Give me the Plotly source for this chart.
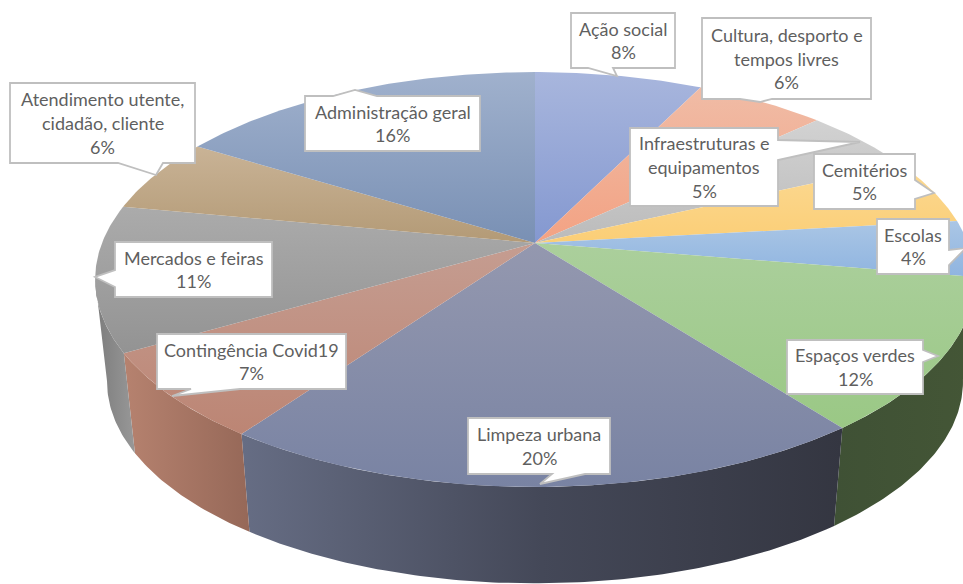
import math
import plotly.graph_objects as go

# ---- data ----
categories = ["Ação social", "Cultura, desporto e tempos livres", "Infraestruturas e equipamentos",
              "Cemitérios", "Escolas", "Espaços verdes", "Limpeza urbana", "Contingência Covid19",
              "Mercados e feiras", "Atendimento utente, cidadão, cliente", "Administração geral"]
values = [7.3, 5.7, 5.1, 5.1, 4.4, 11.9, 20.3, 6.8, 11.3, 5.8, 16.2]
percent_labels = ["8%", "6%", "5%", "5%", "4%", "12%", "20%", "7%", "11%", "6%", "16%"]
label_lines = [["Ação social"], ["Cultura, desporto e", "tempos livres"], ["Infraestruturas e", "equipamentos"],
               ["Cemitérios"], ["Escolas"], ["Espaços verdes"], ["Limpeza urbana"], ["Contingência Covid19"],
               ["Mercados e feiras"], ["Atendimento utente,", "cidadão, cliente"], ["Administração geral"]]

# ---- styles ----
top_colors = [("#A8B6DD", "#8498D0"), ("#F0BCA6", "#F3A283"), ("#D2D2D2", "#BBBBBB"), ("#FBD993", "#FBCE76"),
              ("#AAC6E5", "#8FB4E0"), ("#ABCF9C", "#9AC885"), ("#9498AF", "#7983A3"), ("#C59D91", "#BC8574"),
              ("#ABABAB", "#939393"), ("#C9B396", "#B39A76"), ("#A0B1CD", "#7990B4")]
side_colors = {5: ["#3F5135", "#445636"], 6: ["#666D84", "#444858", "#343641"],
               7: ["#B6826F", "#966858"], 8: ["#7C7C7C", "#989898"]}

# ---- projection of the disc ----
CX, CY, KX, KY, P = 535.0, 243.0, 433.0, 201.0, -0.176
DROP, SHRINK = 103.0, 0.973


def rim(theta, lower=False):
    x_, s_ = math.sin(theta), -math.cos(theta)
    w = 1 + P * s_
    dx, dy = KX * x_ / w, KY * s_ / w
    if lower:
        return CX + SHRINK * dx, CY + DROP + SHRINK * dy
    return CX + dx, CY + dy


def arc(t0, t1, lower=False):
    n = max(2, int(abs(t1 - t0) * 90))
    return [rim(t0 + (t1 - t0) * i / n, lower) for i in range(n + 1)]


total = sum(values)
angles = [0.0]
for v in values:
    angles.append(angles[-1] + v / total * 2 * math.pi)


def scale(cols):
    return [[i / (len(cols) - 1), c] for i, c in enumerate(cols)]


fig = go.Figure()

# side walls
for i, cols in side_colors.items():
    t0, t1 = angles[i], angles[i + 1]
    t1 = min(t1, math.radians(260))
    up, lo = arc(t0, t1), arc(t0, t1, True)
    pts = up + lo[::-1] + up[:1]
    xs = [p[0] for p in pts]
    ys = [p[1] for p in pts]
    fig.add_trace(go.Scatter(x=xs, y=ys, mode="lines", fill="toself", line=dict(width=0), hoverinfo="skip",
                             fillgradient=dict(type="horizontal", colorscale=scale(cols),
                                               start=min(xs), stop=max(xs))))

# top faces
for i, name in enumerate(categories):
    pts = [(CX, CY)] + arc(angles[i], angles[i + 1]) + [(CX, CY)]
    xs = [p[0] for p in pts]
    ys = [p[1] for p in pts]
    fig.add_trace(go.Scatter(x=xs, y=ys, mode="lines", fill="toself", line=dict(width=0),
                             name=name, hoverinfo="name",
                             fillgradient=dict(type="vertical", colorscale=scale(list(top_colors[i])),
                                               start=min(ys), stop=max(ys))))

# callouts: box (x0, y0, x1, y1), tail side, tail points
callouts = [
    (571, 13, 675, 68, "b", [(613, 68), (617, 76), (588, 68)]),
    (702, 18, 871, 99, "b", [(772, 99), (760, 102), (740, 99)]),
    (630, 128, 778, 206, "r", [(778, 140), (860, 142), (778, 160)]),
    (814, 154, 915, 209, "r", [(915, 180), (934, 193), (915, 199)]),
    (877, 219, 949, 274, "r", [(949, 250), (966, 248), (949, 265)]),
    (787, 340, 923, 394, "r", [(923, 350), (938, 356), (923, 362)]),
    (468, 418, 610, 474, "b", [(585, 474), (540, 484), (552, 474)]),
    (157, 334, 346, 389, "b", [(240, 389), (172, 396), (191, 389)]),
    (115, 242, 272, 297, "l", [(115, 287), (95, 277), (115, 270)]),
    (10, 83, 195, 163, "b", [(163, 163), (156, 175), (118, 163)]),
    (305, 96, 480, 151, "t", [(333, 96), (355, 90), (377, 96)]),
]
LINE_H = 23.6
shapes = []
annotations = []
for (x0, y0, x1, y1, side, tail), lines, pct in zip(callouts, label_lines, percent_labels):
    if side == "t":
        path = [(x0, y0)] + tail + [(x1, y0), (x1, y1), (x0, y1)]
    elif side == "r":
        path = [(x0, y0), (x1, y0)] + tail + [(x1, y1), (x0, y1)]
    elif side == "b":
        path = [(x0, y0), (x1, y0), (x1, y1)] + tail + [(x0, y1)]
    else:
        path = [(x0, y0), (x1, y0), (x1, y1), (x0, y1)] + tail
    d = "M" + " L".join(f"{a},{b}" for a, b in path) + " Z"
    shapes.append(dict(type="path", path=d, xref="x", yref="y", fillcolor="white",
                       line=dict(color="#BFBFBF", width=1.8), layer="above"))
    rows = lines + [pct]
    cy = (y0 + y1) / 2
    for j, row in enumerate(rows):
        annotations.append(dict(x=(x0 + x1) / 2, y=cy + (j - (len(rows) - 1) / 2) * LINE_H, xref="x", yref="y",
                                text=row, showarrow=False, xanchor="center", yanchor="middle",
                                font=dict(family="Lato", size=18, color="#5F5F5F")))

fig.update_layout(
    width=963, height=584, margin=dict(l=0, r=0, t=0, b=0), showlegend=False,
    paper_bgcolor="white", plot_bgcolor="white",
    xaxis=dict(range=[0, 963], visible=False, fixedrange=True),
    yaxis=dict(range=[584, 0], visible=False, fixedrange=True),
    shapes=shapes, annotations=annotations,
)
fig.write_html("out.html", post_script="document.body.style.margin='0';", config={"displayModeBar": False})
